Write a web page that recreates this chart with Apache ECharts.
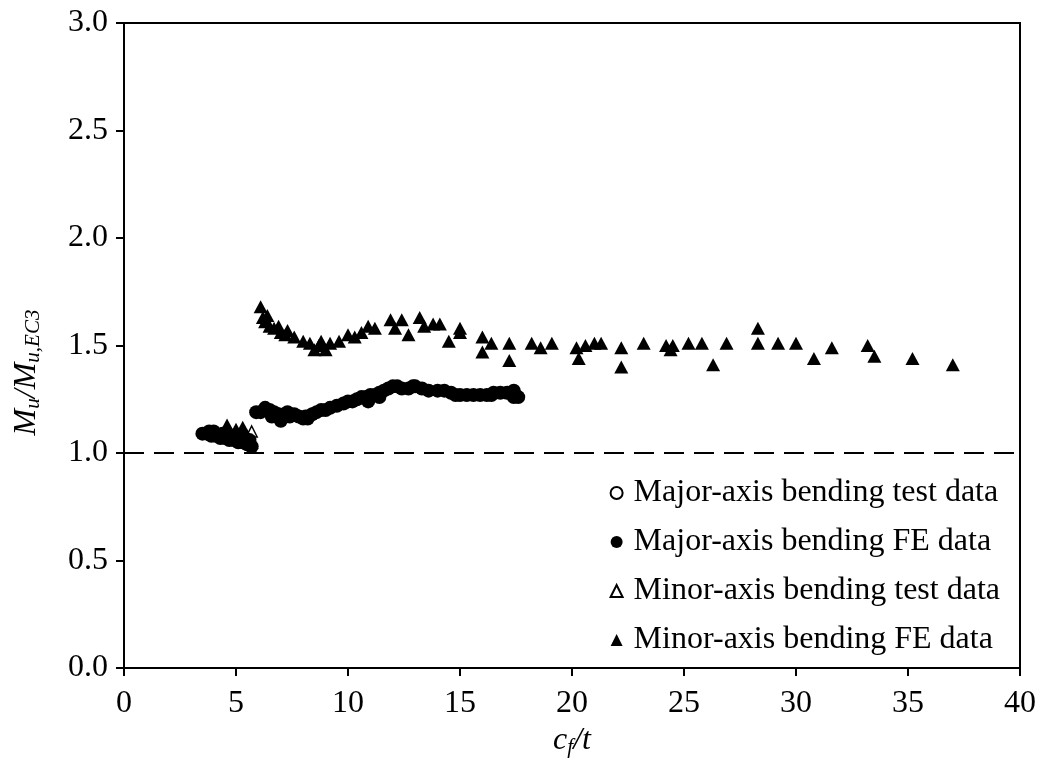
<!DOCTYPE html>
<html>
<head>
<meta charset="utf-8">
<script src="https://cdn.jsdelivr.net/npm/echarts@6/dist/echarts.min.js"></script>
<style>
  html, body { margin: 0; padding: 0; background: #fff; }
  #chart { width: 1041px; height: 760px; }
</style>
</head>
<body>
<div id="chart"></div>
<script>
// Axis ticks
const xTicks = [0, 5, 10, 15, 20, 25, 30, 35, 40];
const yTicks = [0.0, 0.5, 1.0, 1.5, 2.0, 2.5, 3.0];

// Series names
const seriesNames = [
  'Major-axis bending test data',
  'Major-axis bending FE data',
  'Minor-axis bending test data',
  'Minor-axis bending FE data'
];

// [c_f/t, M_u/M_u,EC3]
const majorTest = [
  [3.6, 1.09], [4.0, 1.08], [4.4, 1.08], [5.0, 1.06], [5.5, 1.04]
];

const majorFE = [
  [3.5, 1.09], [3.7, 1.09], [3.8, 1.10], [3.9, 1.08], [4.0, 1.10], [4.1, 1.08],
  [4.3, 1.07], [4.4, 1.09], [4.5, 1.07], [4.7, 1.06], [4.8, 1.08], [4.9, 1.06],
  [5.1, 1.05], [5.2, 1.07], [5.3, 1.05], [5.5, 1.04], [5.6, 1.06], [5.7, 1.03],
  [5.9, 1.19], [6.1, 1.19], [6.3, 1.21], [6.5, 1.20], [6.6, 1.17], [6.7, 1.19],
  [6.9, 1.18], [7.0, 1.15], [7.2, 1.18], [7.3, 1.19], [7.4, 1.17], [7.6, 1.18],
  [7.8, 1.17], [8.0, 1.16], [8.1, 1.17], [8.2, 1.16], [8.4, 1.18], [8.6, 1.19],
  [8.8, 1.20], [9.0, 1.20], [9.2, 1.21], [9.5, 1.22], [9.8, 1.23], [10.0, 1.24],
  [10.2, 1.24], [10.4, 1.25], [10.6, 1.26], [10.8, 1.26], [10.9, 1.24], [11.0, 1.27],
  [11.2, 1.27], [11.4, 1.28], [11.4, 1.26], [11.6, 1.29], [11.8, 1.30], [12.0, 1.31],
  [12.2, 1.31], [12.4, 1.30], [12.7, 1.30], [12.9, 1.31], [13.0, 1.31], [13.3, 1.30],
  [13.6, 1.29], [14.0, 1.29], [14.3, 1.29], [14.6, 1.28], [14.8, 1.27], [15.0, 1.27],
  [15.3, 1.27], [15.6, 1.27], [15.9, 1.27], [16.2, 1.27], [16.4, 1.27], [16.5, 1.28],
  [16.8, 1.28], [17.1, 1.28], [17.4, 1.29], [17.4, 1.26], [17.6, 1.26]
];

const minorTest = [
  [4.2, 1.09], [4.9, 1.08], [5.4, 1.07], [5.7, 1.10]
];

const minorFE = [
  [4.0, 1.10], [4.3, 1.09], [4.6, 1.13], [4.8, 1.09], [5.0, 1.11], [5.3, 1.12],
  [5.5, 1.08], [5.7, 1.05],
  [6.1, 1.68], [6.2, 1.63], [6.3, 1.61], [6.4, 1.64], [6.5, 1.59], [6.7, 1.58],
  [6.9, 1.59], [7.0, 1.56], [7.2, 1.55], [7.3, 1.57], [7.6, 1.54], [8.0, 1.52],
  [8.3, 1.51], [8.5, 1.48], [8.7, 1.50], [8.8, 1.52], [9.0, 1.48], [9.2, 1.51],
  [9.6, 1.52], [10.0, 1.55], [10.3, 1.54], [10.6, 1.56], [10.9, 1.59], [11.2, 1.58],
  [11.9, 1.62], [12.1, 1.58], [12.4, 1.62], [12.7, 1.55], [13.2, 1.63], [13.4, 1.59],
  [13.8, 1.60], [14.1, 1.60], [14.5, 1.52], [15.0, 1.58], [15.0, 1.56], [16.0, 1.54],
  [16.0, 1.47], [16.4, 1.51], [17.2, 1.51], [17.2, 1.43], [18.2, 1.51], [18.6, 1.49],
  [19.1, 1.51], [20.2, 1.49], [20.3, 1.44], [20.6, 1.50], [21.0, 1.51], [21.3, 1.51],
  [22.2, 1.49], [22.2, 1.40], [23.2, 1.51], [24.2, 1.50], [24.4, 1.48], [24.5, 1.50],
  [25.2, 1.51], [25.8, 1.51], [26.3, 1.41], [26.9, 1.51], [28.3, 1.58], [28.3, 1.51],
  [29.2, 1.51], [30.0, 1.51], [30.8, 1.44], [31.6, 1.49], [33.2, 1.50], [33.5, 1.45],
  [35.2, 1.44], [37.0, 1.41]
];

// Reference ratio line
const unityLevel = 1.0;

const serif = '"Liberation Serif", "Times New Roman", serif';
const black = '#000';
const fs = 32;

const chart = echarts.init(document.getElementById('chart'));

chart.setOption({
  animation: false,
  backgroundColor: '#fff',
  textStyle: { fontFamily: serif, color: black },
  grid: {
    left: 124, right: 21, top: 23, bottom: 92,
    outerBoundsMode: 'none',
    show: true, borderColor: black, borderWidth: 2, backgroundColor: 'transparent'
  },
  legend: {
    orient: 'vertical',
    right: 36,
    top: 472,
    itemWidth: 12,
    itemHeight: 12,
    itemGap: 17,
    data: seriesNames,
    textStyle: { fontFamily: serif, fontSize: fs, color: black, padding: [0, 0, 0, 6] }
  },
  xAxis: {
    type: 'value',
    min: xTicks[0],
    max: xTicks[xTicks.length - 1],
    interval: 5,
    splitLine: { show: false },
    axisLine: { lineStyle: { color: black, width: 2 } },
    axisTick: { inside: false, length: 8, lineStyle: { color: black, width: 2 } },
    axisLabel: { fontFamily: serif, fontSize: fs, color: black, margin: 20 },
    name: '{i|c}{s|f}{i|/t}',
    nameLocation: 'middle',
    nameGap: 34,
    nameTextStyle: {
      rich: {
        i: { fontFamily: serif, fontStyle: 'italic', fontSize: fs, color: black },
        s: { fontFamily: serif, fontStyle: 'italic', fontSize: 21, color: black, padding: [14, 0, 0, 0] }
      }
    }
  },
  yAxis: {
    type: 'value',
    min: yTicks[0],
    max: yTicks[yTicks.length - 1],
    interval: 0.5,
    splitLine: { show: false },
    axisLine: { lineStyle: { color: black, width: 2 } },
    axisTick: { inside: false, length: 8, lineStyle: { color: black, width: 2 } },
    axisLabel: {
      fontFamily: serif, fontSize: fs, color: black, margin: 16,
      formatter: v => v.toFixed(1)
    },
    name: '{i|M}{s|u}{i|/M}{s|u,EC3}',
    nameLocation: 'middle',
    nameGap: 80,
    nameRotate: 90,
    nameTextStyle: {
      padding: [0, 54, 0, 0],
      rich: {
        i: { fontFamily: serif, fontStyle: 'italic', fontSize: fs, color: black },
        s: { fontFamily: serif, fontStyle: 'italic', fontSize: 21, color: black, padding: [14, 0, 0, 0] }
      }
    }
  },
  series: [
    {
      name: seriesNames[0],
      type: 'scatter',
      z: 1,
      symbol: 'circle',
      symbolSize: 11,
      itemStyle: { color: '#fff', borderColor: black, borderWidth: 1.5, opacity: 1 },
      data: majorTest
    },
    {
      name: seriesNames[1],
      type: 'scatter',
      z: 3,
      symbol: 'circle',
      symbolSize: 14,
      itemStyle: { color: black, opacity: 1 },
      data: majorFE,
      markLine: {
        silent: true,
        symbol: 'none',
        label: { show: false },
        lineStyle: { color: black, width: 2, type: [20, 10] },
        data: [{ yAxis: unityLevel }]
      }
    },
    {
      name: seriesNames[2],
      type: 'scatter',
      z: 2,
      symbol: 'triangle',
      symbolSize: 11,
      itemStyle: { color: '#fff', borderColor: black, borderWidth: 1.5, opacity: 1 },
      data: minorTest
    },
    {
      name: seriesNames[3],
      type: 'scatter',
      z: 4,
      symbol: 'triangle',
      symbolSize: [14, 13],
      itemStyle: { color: black, opacity: 1 },
      data: minorFE
    }
  ]
});
</script>
</body>
</html>
